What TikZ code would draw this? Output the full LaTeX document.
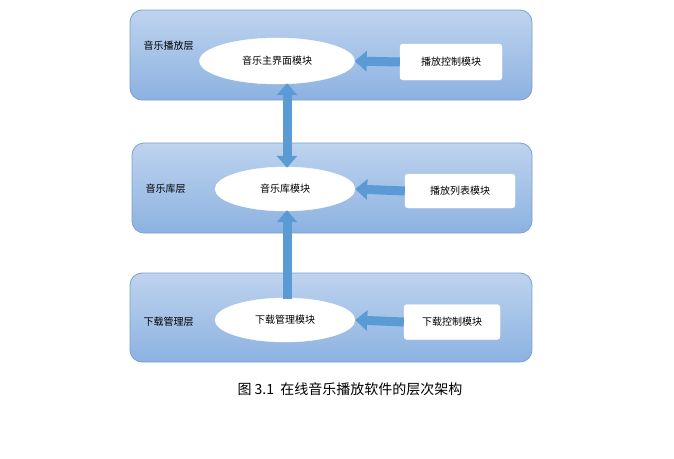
\documentclass[tikz,border=0pt]{standalone}
\usepackage{fontspec}
\setmainfont{Noto Sans CJK SC}
\usetikzlibrary{arrows.meta,shapes.geometric}
\definecolor{arr}{RGB}{91,155,213}
\definecolor{lay1}{RGB}{190,211,238}
\definecolor{lay2}{RGB}{140,178,225}
\definecolor{layb}{RGB}{120,160,210}
\begin{document}
\begin{tikzpicture}[x=1pt,y=-1pt,font=\fontsize{10}{12}\selectfont,
  layer/.style={draw=layb,rounded corners=12pt,top color=lay1,bottom color=lay2,line width=0.8pt},
  mod/.style={draw=white,fill=white,ellipse,inner sep=0pt},
  box/.style={draw=white,fill=white,rounded corners=3pt,minimum height=36pt,minimum width=102pt},
  barr/.style={arr,line width=9pt,-{Triangle[width=20pt,length=12pt]}},
  darr/.style={arr,line width=9pt,{Triangle[width=20pt,length=12pt]}-{Triangle[width=20pt,length=12pt]}}]
\useasboundingbox (0,0) rectangle (674,458);
\path[layer] (130,10) rectangle (532,100);
\path[layer] (132,143) rectangle (532,233);
\path[layer] (130,273) rectangle (532,362);
\node[anchor=west] (l1) at (140,46) {音乐播放层};
\node[anchor=west] (l2) at (142,189) {音乐库层};
\node[anchor=west] (l3) at (140,322) {下载管理层};
\node[mod,minimum width=155pt,minimum height=46pt] (e1) at (277,61) {音乐主界面模块};
\node[mod,minimum width=140pt,minimum height=44pt] (e2) at (285,189) {音乐库模块};
\node[mod,minimum width=140pt,minimum height=44pt] (e3) at (285,320) {下载管理模块};
\node[box] (b1) at (451,62) {播放控制模块};
\node[box,minimum width=110pt,minimum height=34pt] (b2) at (460,191) {播放列表模块};
\node[box,minimum width=96pt,minimum height=35pt] (b3) at (452,322) {下载控制模块};
\draw[barr] (b1.west) -- (e1.east);
\draw[barr] (b2.west) -- (e2.east);
\draw[barr] (b3.west) -- (e3.east);
\draw[darr] ([yshift=1pt]e1.south -| 287,0) -- ([yshift=-1pt]e2.north -| 287,0);
\draw[barr] ([yshift=-1pt]e3.north -| 287,0) -- ([yshift=1pt]e2.south -| 287,0);
\node (cap) at (350,389) {\fontsize{14}{16}\selectfont 图 3.1\ \ 在线音乐播放软件的层次架构};
\end{tikzpicture}
\end{document}
